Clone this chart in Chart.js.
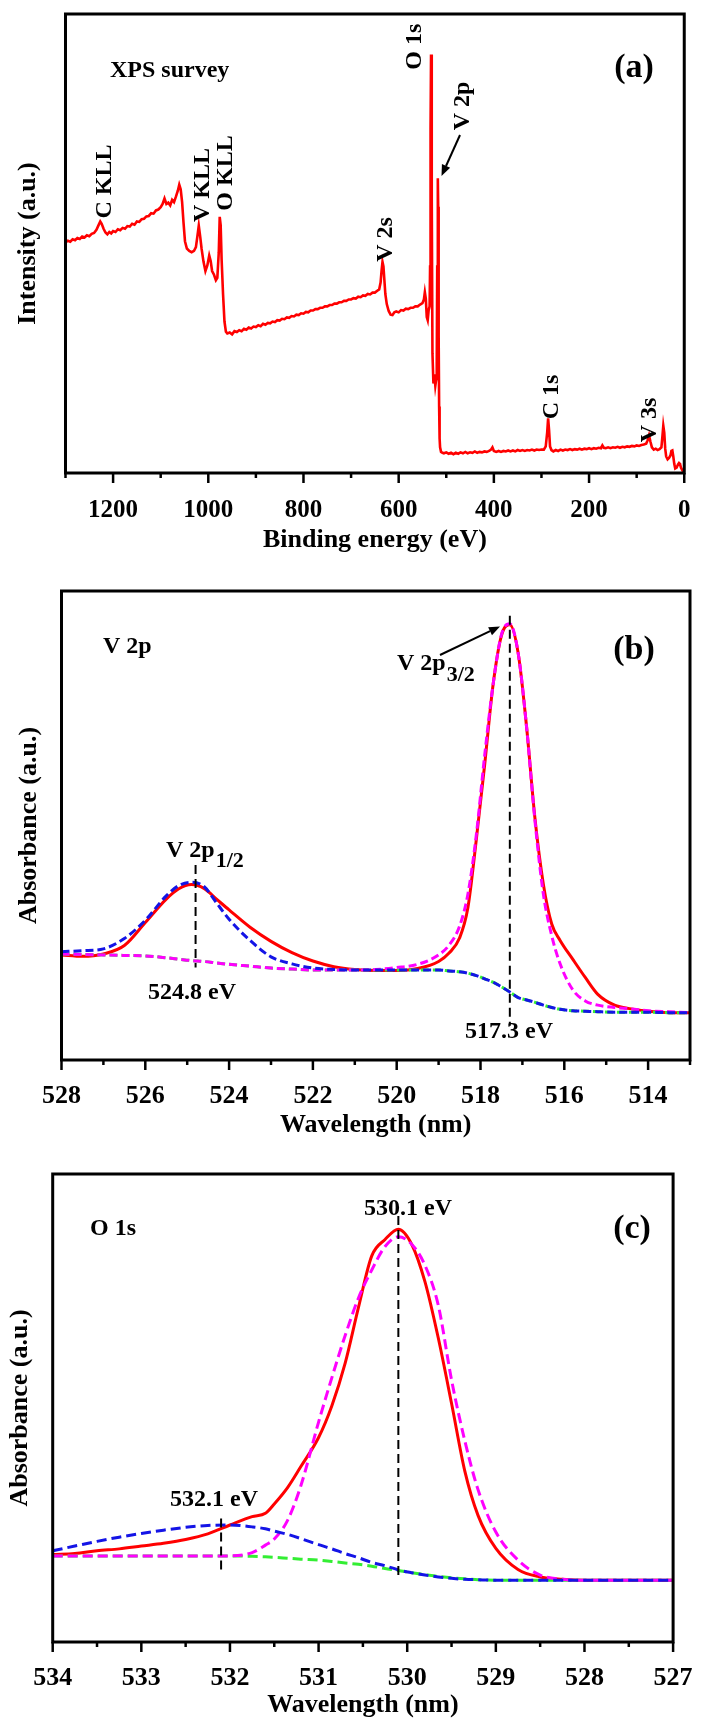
<!DOCTYPE html>
<html><head><meta charset="utf-8">
<script src="https://cdn.jsdelivr.net/npm/chart.js@4.4.1/dist/chart.umd.min.js"></script>
<style>
html,body{margin:0;padding:0;background:#fff;}
body{width:705px;height:1722px;position:relative;overflow:hidden;}
.panel{position:absolute;left:0;}
canvas{display:block;}
</style></head><body>
<div class="panel" style="top:0px"><canvas id="chartA" width="705" height="560"></canvas></div>
<div class="panel" style="top:560px"><canvas id="chartB" width="705" height="580"></canvas></div>
<div class="panel" style="top:1140px"><canvas id="chartC" width="705" height="582"></canvas></div>
<script>
// ---------- Panel (a): XPS survey ----------
const surveyEnergy = [1300,1295,1290,1285,1280,1275,1270,1265,1260,1255,1250,1245,1240,1235,1231,1227,1224,1220,1216,1212,1208,1204,1200,1195,1190,1185,1180,1175,1170,1165,1160,1155,1150,1145,1140,1135,1130,1125,1120,1115,1110,1105,1100,1096,1092,1088,1084,1080,1076,1072,1068,1064,1061,1058,1055,1052,1049,1045,1040,1035,1030,1026,1023,1020,1017,1014,1010,1006,1002,998,995,992,988,984,981,978,976,974,972,969,966,963,960,955,950,945,940,935,930,925,920,915,910,905,900,895,890,885,880,875,870,865,860,855,850,845,840,835,830,825,820,815,810,805,800,795,790,785,780,775,770,765,760,755,750,745,740,735,730,725,720,715,710,705,700,695,690,685,680,675,670,665,660,655,650,645,641,638,636,634,632,630,628,625,621,617,613,609,605,600,595,590,585,580,575,570,565,560,555,550,547,545,543,541,539,537,535,534,533,532,531,530,529,527,525,523,521,520,519,518,517.5,517,516,515,514,513,511,508,505,500,495,490,485,480,475,470,465,460,455,450,445,440,435,430,425,420,415,410,406,403,400,395,390,385,380,375,370,365,360,355,350,345,340,335,330,325,320,315,310,305,300,295,291,288,286,284,282,279,275,270,265,260,255,250,245,240,235,230,225,220,215,210,205,200,195,190,185,180,175,172,169,165,160,155,150,145,140,135,130,125,120,115,110,105,100,95,90,85,80,77,74,71,68,64,60,56,52,48,46,44,42,40,38,35,32,29,27,25,23,21,19,16,13,11,9,7,5,3,1,0];
const surveyIntensity = [50.2,50.6,50.4,50.9,50.7,51.2,51.0,51.5,51.3,51.8,51.6,52.1,52.3,53.0,53.9,54.8,54.3,53.2,52.4,52.0,52.5,52.2,52.7,52.5,53.1,52.9,53.4,53.2,53.8,53.7,54.3,54.1,54.8,54.7,55.3,55.4,55.9,56.0,56.6,56.5,57.2,57.4,57.9,58.6,59.8,58.6,58.9,58.3,59.5,59.0,60.2,61.5,62.8,61.8,59.0,54.5,50.5,48.9,48.4,48.1,48.4,49.2,51.5,53.9,51.5,48.8,46.0,44.0,45.2,47.4,46.2,44.0,43.2,42.0,42.5,48.0,55.8,54.0,46.5,39.0,33.0,30.8,30.4,30.6,30.2,30.9,30.7,31.1,30.9,31.4,31.2,31.7,31.5,31.9,31.8,32.2,32.0,32.5,32.3,32.7,32.6,33.0,32.9,33.3,33.2,33.6,33.5,33.9,33.8,34.2,34.1,34.5,34.4,34.8,34.7,35.1,35.0,35.4,35.4,35.7,35.7,36.0,36.0,36.3,36.3,36.6,36.6,36.9,36.9,37.2,37.2,37.5,37.5,37.8,37.8,38.1,38.0,38.4,38.3,38.7,38.6,39.0,38.9,39.3,39.3,39.7,40.0,41.5,44.0,46.0,45.0,42.0,39.0,36.8,35.3,34.5,34.4,35.0,35.2,35.0,35.5,35.4,35.8,35.7,36.0,36.0,36.3,36.3,36.7,37.0,37.8,39.4,38.0,34.0,33.3,35.5,36.3,45.0,75.0,91.2,90.0,60.0,26.0,19.5,21.5,19.0,20.5,24.0,45.0,62.0,64.2,58.0,30.0,14.5,7.5,5.6,4.6,4.4,4.3,4.5,4.2,4.4,4.1,4.4,4.2,4.5,4.3,4.6,4.3,4.5,4.4,4.7,4.4,4.6,4.5,4.7,4.6,4.8,5.1,5.6,4.8,4.6,4.8,4.6,4.8,4.7,4.9,4.7,4.9,4.7,5.0,4.8,5.0,4.8,5.0,4.9,5.1,4.9,5.1,5.0,5.1,5.1,5.8,8.8,11.9,9.3,5.8,5.0,4.7,5.0,4.8,5.1,4.9,5.1,5.0,5.2,5.0,5.2,5.1,5.3,5.1,5.3,5.2,5.4,5.2,5.4,5.3,5.5,5.4,6.0,5.5,5.4,5.6,5.4,5.6,5.5,5.7,5.5,5.7,5.6,5.8,5.7,5.9,5.8,6.0,5.9,6.1,6.2,6.4,7.1,8.2,6.8,5.6,5.1,5.3,5.0,5.2,5.6,7.8,10.3,8.8,5.3,3.6,3.0,3.3,3.8,4.8,4.9,3.6,2.0,1.0,1.2,1.9,2.2,2.0,1.2,0.8,0.4,0.4,0.6];
const surveyTickStep = 100;
const surveyLabelStep = 200;

// ---------- Panel (b): V 2p ----------
const v2pEnergy = [528,527.5,527,526.5,526,525.5,525.2,524.9,524.6,524.3,524,523.5,523,522.5,522,521.5,521,520.5,520,519.5,519,518.75,518.5,518.3,518.1,517.9,517.7,517.5,517.3,517.1,516.9,516.7,516.5,516.3,516.1,515.8,515.5,515.2,514.8,514.4,514,513.5,513];
const v2pMeasured = [22.4,22.1,22.6,24.4,29.3,34.3,36.5,37.4,36.6,34.3,32.0,28.3,25.3,22.9,21.1,19.9,19.3,19.1,19.1,19.5,21.0,22.8,26.0,32.5,47.0,63.0,80.0,90.5,92.8,86.7,71.0,51.5,37.5,29.0,25.5,21.5,17.6,14.0,11.7,10.9,10.4,10.1,10.1];
const v2p32Fit = [22.6,22.5,22.4,22.3,22.2,21.8,21.5,21.2,21.0,20.7,20.4,20.0,19.6,19.4,19.2,19.2,19.2,19.3,19.7,20.4,22.4,24.5,28.5,35.4,48.0,65.0,80.0,90.7,93.0,86.7,71.0,51.0,35.4,26.5,20.5,15.0,12.6,11.7,11.2,10.9,10.5,10.3,10.1];
const v2p12Fit = [23.1,23.3,23.7,25.9,29.8,35.0,37.2,37.9,37.0,33.5,30.0,25.5,22.0,20.5,19.6,19.3,19.2,19.2,19.2,19.2,19.2,19.0,18.8,18.5,18.0,17.3,16.6,15.6,14.5,13.3,12.8,12.3,11.7,11.2,10.8,10.5,10.4,10.3,10.2,10.2,10.2,10.1,10.1];
const v2pBackground = [22.6,22.5,22.4,22.3,22.2,21.8,21.5,21.2,21.0,20.7,20.4,20.0,19.6,19.4,19.2,19.2,19.2,19.2,19.2,19.2,19.2,19.0,18.8,18.5,18.0,17.3,16.6,15.6,14.5,13.3,12.8,12.3,11.7,11.2,10.8,10.5,10.4,10.3,10.2,10.2,10.2,10.1,10.1];
const v2pMarkerEnergy = [524.8, 517.3];
const v2pMarkerTop = [41.6, 94.7];
const v2pMarkerBottom = [19.7, 7.3];

// ---------- Panel (c): O 1s ----------
const o1sEnergy = [534,533.75,533.5,533.25,533,532.75,532.5,532.25,532,531.75,531.6,531.5,531.35,531.2,531,530.85,530.7,530.55,530.4,530.25,530.1,529.95,529.8,529.65,529.5,529.35,529.2,529,528.75,528.5,528.25,528,527.5,527];
const o1sMeasured = [18.7,18.9,19.5,19.9,20.5,21.1,21.9,23.1,25.0,26.8,27.5,29.5,33.0,37.5,43.7,50.5,59.6,71.5,82.5,86.0,88.2,85.0,77.0,65.0,51.0,36.5,27.0,20.0,15.5,13.9,13.4,13.2,13.2,13.2];
const o1sLatticeFit = [18.4,18.4,18.4,18.4,18.4,18.4,18.4,18.4,18.4,19.1,20.7,22.0,26.0,33.4,47.0,56.5,65.5,73.5,79.5,84.5,86.6,85.0,80.5,72.0,56.0,43.0,32.5,23.5,17.5,14.3,13.4,13.2,13.2,13.2];
const o1sHydroxylFit = [19.5,20.5,21.5,22.4,23.2,23.9,24.5,24.9,25.0,24.6,24.2,23.7,23.0,22.1,20.8,19.9,18.9,18.0,17.0,16.3,15.4,14.8,14.3,13.9,13.6,13.4,13.3,13.2,13.2,13.2,13.2,13.2,13.2,13.2];
const o1sBackground = [18.4,18.4,18.4,18.4,18.4,18.4,18.4,18.4,18.4,18.3,18.2,18.1,17.9,17.7,17.5,17.2,16.9,16.6,16.2,15.7,15.3,14.8,14.4,14.0,13.7,13.5,13.3,13.2,13.2,13.2,13.2,13.2,13.2,13.2];
const o1sMarkerEnergy = [530.1, 532.1];
const o1sMarkerTop = [91.0, 26.4];
const o1sMarkerBottom = [13.7, 14.5];

// ---------- helpers ----------
const SERIF = "'Liberation Serif','Times New Roman',serif";
const pts = (xs, ys) => xs.map((x, i) => ({x: x, y: ys[i]}));
const markerSets = (e, top, bot) => e.map((x, i) => ({
  data: [{x: x, y: top[i]}, {x: x, y: bot[i]}],
  borderColor: '#000', borderWidth: 2, borderDash: [9, 5], pointRadius: 0
}));

const frameAnnot = {
  id: 'frameAnnot',
  afterDraw(chart, args, o) {
    const ctx = chart.ctx, a = chart.chartArea, xs = chart.scales.x;
    ctx.save();
    ctx.strokeStyle = '#000'; ctx.lineWidth = 2.5;
    xs.ticks.forEach(t => {
      const px = xs.getPixelForValue(t.value);
      const major = t.label !== '' && t.label !== undefined;
      ctx.beginPath(); ctx.moveTo(px, a.bottom); ctx.lineTo(px, a.bottom + (major ? 10 : 5)); ctx.stroke();
    });
    ctx.lineWidth = 3;
    ctx.strokeRect(a.left, a.top, a.right - a.left, a.bottom - a.top);
    ctx.fillStyle = '#000';
    (o.texts || []).forEach(t => {
      ctx.save();
      ctx.font = 'bold ' + t.size + 'px ' + SERIF;
      const y = t.y - o.offsetY;
      if (t.rot) {
        ctx.translate(t.x, y); ctx.rotate(-Math.PI / 2);
        ctx.textAlign = 'center'; ctx.textBaseline = 'middle';
        ctx.fillText(t.text, 0, 0);
      } else {
        ctx.textAlign = t.align || 'left'; ctx.textBaseline = t.baseline || 'middle';
        ctx.fillText(t.text, t.x, y);
        if (t.sub) {
          const w = ctx.measureText(t.text).width;
          ctx.font = 'bold ' + t.subSize + 'px ' + SERIF;
          ctx.fillText(t.sub, t.x + w + 1, y + t.subDy);
        }
      }
      ctx.restore();
    });
    (o.arrows || []).forEach(ar => {
      const x1 = ar.x1, y1 = ar.y1 - o.offsetY, x2 = ar.x2, y2 = ar.y2 - o.offsetY;
      const ang = Math.atan2(y2 - y1, x2 - x1), hl = 11, hw = 4.5;
      const bx = x2 - hl * Math.cos(ang), by = y2 - hl * Math.sin(ang);
      ctx.strokeStyle = '#000'; ctx.lineWidth = 2;
      ctx.beginPath(); ctx.moveTo(x1, y1); ctx.lineTo(bx, by); ctx.stroke();
      ctx.beginPath(); ctx.moveTo(x2, y2);
      ctx.lineTo(bx + hw * Math.sin(ang), by - hw * Math.cos(ang));
      ctx.lineTo(bx - hw * Math.sin(ang), by + hw * Math.cos(ang));
      ctx.closePath(); ctx.fill();
    });
    ctx.restore();
  }
};

function buildChart(id, L, xOpt, datasets, xTitle, yTitle, annot) {
  const lh = L.font * 1.2, tlh = L.titleFont * 1.2;
  const font = {family: SERIF, size: L.font, weight: 'bold'};
  const tfont = {family: SERIF, size: L.titleFont, weight: 'bold'};
  return new Chart(document.getElementById(id), {
    type: 'line',
    data: {datasets: datasets},
    plugins: [frameAnnot],
    options: {
      responsive: false, animation: false, devicePixelRatio: 1,
      layout: {padding: {left: 0, right: 705 - L.r, top: L.t - L.top, bottom: 0}},
      plugins: {legend: {display: false}, tooltip: {enabled: false},
        frameAnnot: Object.assign({offsetY: L.top}, annot)},
      elements: {point: {radius: 0}, line: {fill: false}},
      scales: {
        x: {
          type: 'linear', reverse: true, min: xOpt.min, max: xOpt.max,
          grid: {display: false}, border: {display: false},
          ticks: {stepSize: xOpt.step, autoSkip: false, maxRotation: 0, minRotation: 0,
            color: '#000', font: font, padding: (L.tickY - L.b) - lh / 2,
            callback: xOpt.label},
          title: {display: true, text: xTitle, color: '#000', font: tfont,
            padding: {top: 0, bottom: (L.top + L.h - L.titleY) - tlh / 2}},
          afterFit: s => { s.height = L.h - (L.b - L.top); }
        },
        y: {
          min: 0, max: 100, grid: {display: false}, border: {display: false},
          ticks: {display: false},
          title: {display: true, text: yTitle, color: '#000', font: tfont,
            padding: {top: L.yTitleX - tlh / 2, bottom: 0}},
          afterFit: s => { s.width = L.l; }
        }
      }
    }
  });
}

const isMult = (v, m) => Math.abs(v / m - Math.round(v / m)) < 1e-6;

// ---------- Panel (a) ----------
buildChart('chartA',
  {top: 0, h: 560, l: 65.5, r: 689, t: 14, b: 473, tickY: 502.5, titleY: 540, yTitleX: 28, font: 25, titleFont: 26},
  {min: 0, max: 1300, step: surveyTickStep, label: v => isMult(v, surveyLabelStep) ? String(v) : ''},
  [{data: pts(surveyEnergy, surveyIntensity), borderColor: '#ff0000', borderWidth: 2.6, pointRadius: 0}],
  'Binding energy (eV)', 'Intensity (a.u.)',
  {texts: [
    {text: 'XPS survey', x: 110, y: 71, size: 24},
    {text: '(a)', x: 634, y: 68, size: 34, align: 'center'},
    {text: 'C KLL', x: 105, y: 181.5, size: 24, rot: true},
    {text: 'V KLL', x: 202.5, y: 185, size: 24, rot: true},
    {text: 'O KLL', x: 226, y: 173, size: 24, rot: true},
    {text: 'V 2s', x: 386, y: 239.5, size: 24, rot: true},
    {text: 'O 1s', x: 415, y: 46.7, size: 24, rot: true},
    {text: 'V 2p', x: 463, y: 106, size: 24, rot: true},
    {text: 'C 1s', x: 552, y: 397, size: 24, rot: true},
    {text: 'V 3s', x: 650, y: 420, size: 24, rot: true}
  ], arrows: [{x1: 460, y1: 135, x2: 441.5, y2: 176}]});

// ---------- Panel (b) ----------
buildChart('chartB',
  {top: 560, h: 580, l: 61.5, r: 690, t: 591, b: 1060, tickY: 1088, titleY: 1125, yTitleX: 29, font: 26, titleFont: 26},
  {min: 513, max: 528, step: 1, label: v => isMult(v, 2) ? String(v) : ''},
  [].concat(
    markerSets(v2pMarkerEnergy, v2pMarkerTop, v2pMarkerBottom),
    [
      {data: pts(v2pEnergy, v2p12Fit), borderColor: '#1414e6', borderWidth: 3, borderDash: [8, 4], cubicInterpolationMode: 'monotone'},
      {data: pts(v2pEnergy, v2p32Fit), borderColor: '#ff00ff', borderWidth: 3, borderDash: [8, 4], cubicInterpolationMode: 'monotone'},
      {data: pts(v2pEnergy, v2pBackground), borderColor: '#33ee33', borderWidth: 3, borderDash: [8, 4], cubicInterpolationMode: 'monotone'},
      {data: pts(v2pEnergy, v2pMeasured), borderColor: '#ff0000', borderWidth: 3, cubicInterpolationMode: 'monotone'}
    ]),
  'Wavelength (nm)', 'Absorbance (a.u.)',
  {texts: [
    {text: 'V 2p', x: 103, y: 647, size: 24},
    {text: '(b)', x: 634, y: 650, size: 34, align: 'center'},
    {text: 'V 2p', x: 397, y: 670, size: 24, baseline: 'alphabetic', sub: '3/2', subSize: 22, subDy: 11},
    {text: 'V 2p', x: 166, y: 856.5, size: 24, baseline: 'alphabetic', sub: '1/2', subSize: 22, subDy: 10},
    {text: '524.8 eV', x: 148, y: 993, size: 24},
    {text: '517.3 eV', x: 465, y: 1032, size: 24}
  ], arrows: [{x1: 440, y1: 655, x2: 500, y2: 626.5}]});

// ---------- Panel (c) ----------
buildChart('chartC',
  {top: 1140, h: 582, l: 52.7, r: 683, t: 1174, b: 1642, tickY: 1670, titleY: 1705, yTitleX: 20, font: 26, titleFont: 26},
  {min: 527, max: 534, step: 0.5, label: v => isMult(v, 1) ? String(Math.round(v)) : ''},
  [].concat(
    markerSets(o1sMarkerEnergy, o1sMarkerTop, o1sMarkerBottom),
    [
      {data: pts(o1sEnergy, o1sHydroxylFit), borderColor: '#1414e6', borderWidth: 3, borderDash: [10, 5], cubicInterpolationMode: 'monotone'},
      {data: pts(o1sEnergy, o1sLatticeFit), borderColor: '#ff00ff', borderWidth: 3, borderDash: [10, 5], cubicInterpolationMode: 'monotone'},
      {data: pts(o1sEnergy, o1sBackground), borderColor: '#33ee33', borderWidth: 3, borderDash: [10, 5], cubicInterpolationMode: 'monotone'},
      {data: pts(o1sEnergy, o1sMeasured), borderColor: '#ff0000', borderWidth: 3, cubicInterpolationMode: 'monotone'}
    ]),
  'Wavelength (nm)', 'Absorbance (a.u.)',
  {texts: [
    {text: 'O 1s', x: 90, y: 1229, size: 24},
    {text: '(c)', x: 632, y: 1229, size: 34, align: 'center'},
    {text: '530.1 eV', x: 364, y: 1209, size: 24},
    {text: '532.1 eV', x: 170, y: 1500, size: 24}
  ]});
</script>
</body></html>
